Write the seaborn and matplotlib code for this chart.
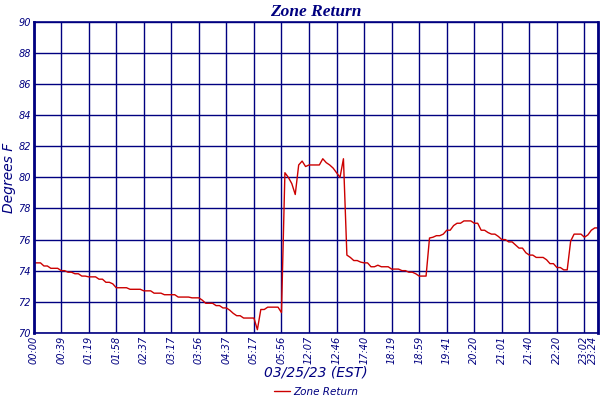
import numpy as np
import pandas as pd
import matplotlib
matplotlib.use("Agg")
import matplotlib.pyplot as plt
import seaborn as sns

# sample readings (one every few minutes)
temps = [
    74.5, 74.5, 74.5, 74.3, 74.3, 74.15, 74.15, 74.15, 74.0, 74.0,
    73.9, 73.9, 73.8, 73.8, 73.65, 73.65, 73.6, 73.6, 73.6, 73.45,
    73.45, 73.25, 73.25, 73.15, 72.9, 72.9, 72.9, 72.9, 72.8, 72.8,
    72.8, 72.8, 72.7, 72.7, 72.7, 72.55, 72.55, 72.55, 72.45, 72.45,
    72.45, 72.45, 72.3, 72.3, 72.3, 72.3, 72.25, 72.25, 72.25, 72.1,
    71.9, 71.9, 71.9, 71.75, 71.75, 71.6, 71.6, 71.45, 71.25, 71.1,
    71.1, 70.95, 70.95, 70.95, 70.95, 70.2, 71.5, 71.5, 71.65, 71.65,
    71.65, 71.65, 71.3, 80.3, 80.0, 79.6, 78.9, 80.8, 81.05, 80.7,
    80.8, 80.8, 80.8, 80.8, 81.2, 80.95, 80.8, 80.6, 80.3, 80.0,
    81.2, 75.0, 74.85, 74.65, 74.65, 74.55, 74.5, 74.5, 74.25, 74.25,
    74.35, 74.25, 74.25, 74.25, 74.1, 74.1, 74.1, 74.0, 74.0, 73.9,
    73.9, 73.8, 73.65, 73.65, 73.65, 76.1, 76.15, 76.25, 76.25, 76.35,
    76.6, 76.6, 76.9, 77.05, 77.05, 77.2, 77.2, 77.2, 77.05, 77.05,
    76.6, 76.6, 76.45, 76.35, 76.35, 76.2, 76.0, 76.0, 75.85, 75.85,
    75.65, 75.45, 75.45, 75.15, 75.0, 75.0, 74.85, 74.85, 74.85, 74.7,
    74.45, 74.45, 74.2, 74.2, 74.05, 74.05, 75.9, 76.35, 76.35, 76.35,
    76.15, 76.3, 76.6, 76.75, 76.75,
]

tick_pos = [0, 8, 16, 24, 32, 40, 48, 56, 64, 72, 80,
            88, 96, 104, 112, 120, 128, 136, 144, 152, 160, 164]
tick_labels = ["00:00", "00:39", "01:19", "01:58", "02:37", "03:17",
               "03:56", "04:37", "05:17", "05:56", "12:07", "12:46",
               "17:40", "18:19", "18:59", "19:41", "20:20", "21:01",
               "21:40", "22:20", "23:02", "23:24"]
y_ticks = [70, 72, 74, 76, 78, 80, 82, 84, 86, 88, 90]

navy = "#000080"
red = "#CC0000"

df = pd.DataFrame({"sample": np.arange(len(temps)), "temp": temps})

sns.set_style("white")
plt.rcParams["font.family"] = ["DejaVu Sans"]

fig = plt.figure(figsize=(6, 4), dpi=100)
ax = fig.add_axes([0.056, 0.168, 0.941, 0.777])

sns.lineplot(data=df, x="sample", y="temp", color=red, linewidth=1.0,
             label="Zone Return", ax=ax)

ax.set_xlim(0, len(temps) - 1)
ax.set_ylim(70, 90)
ax.set_xticks(tick_pos)
ax.set_xticklabels(tick_labels, rotation=90, fontsize=7, style="italic", color=navy)
# keep the last label inside the canvas
ax.get_xticklabels()[-1].set_horizontalalignment("right")
ax.set_yticks(y_ticks)
ax.set_yticklabels([str(v) for v in y_ticks], fontsize=7, style="italic", color=navy)
ax.tick_params(length=0, pad=2)
ax.grid(True, color=navy, linewidth=1.0)
ax.set_axisbelow(True)

for side in ["left", "right"]:
    ax.spines[side].set_color(navy)
    ax.spines[side].set_linewidth(2.0)
for side in ["top", "bottom"]:
    ax.spines[side].set_color(navy)
    ax.spines[side].set_linewidth(1.2)

ax.set_title("Zone Return", fontsize=12.5, style="italic", weight="bold", color=navy,
             family="Liberation Serif", pad=4)
ax.set_xlabel("03/25/23 (EST)", fontsize=10, style="italic", color=navy, labelpad=1)
ax.set_ylabel("Degrees F", fontsize=10, style="italic", color=navy, labelpad=2)

leg = ax.legend(loc="center", bbox_to_anchor=(0.5, -0.19), frameon=False,
                fontsize=7.5, handlelength=1.5, handletextpad=0.3)
for t in leg.get_texts():
    t.set_color(navy)
    t.set_style("italic")

fig.savefig("out.png", dpi=100)
